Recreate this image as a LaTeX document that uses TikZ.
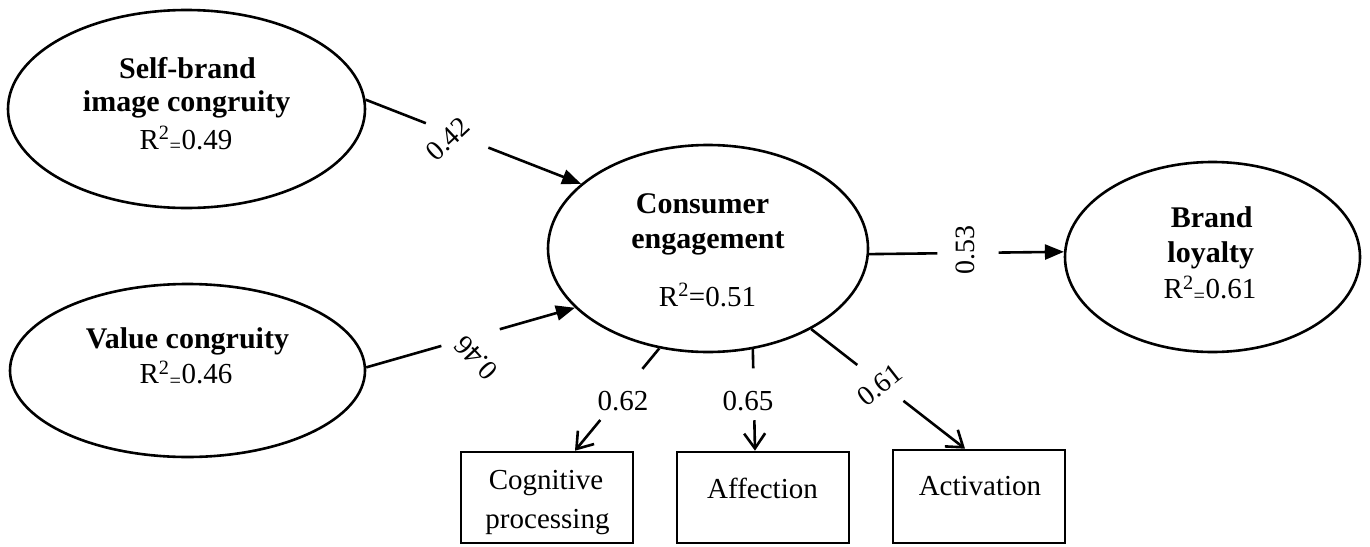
\documentclass[tikz,border=0pt]{standalone}
\usepackage{fontspec}
\setmainfont{Liberation Serif}
\usetikzlibrary{shapes.geometric,arrows.meta,calc}

\tikzset{
  latent/.style={draw, ellipse, inner sep=0pt, line width=2.6pt},
  indicator/.style={draw, rectangle, inner sep=0pt, minimum width=172pt, line width=2.6pt},
  title/.style={font=\fontsize{30}{34}\bfseries, anchor=base, inner sep=0pt},
  plain/.style={font=\fontsize{29}{34}\selectfont, anchor=base, inner sep=0pt},
  coef/.style={font=\fontsize{28}{32}\selectfont, inner sep=0pt},
  link/.style={line width=2.6pt},
  structural/.style={link, -{Triangle[length=19pt,width=15pt]}},
  loading/.style={link, -{Straight Barb[length=15pt,width=21pt]}},
}

% connector broken around its coefficient: from, to, gap start, gap end, tip style
\newcommand\gapline[5]{%
  \draw[link] (#1) -- ($(#1)!#3!(#2)$);
  \draw[#5] ($(#1)!#4!(#2)$) -- (#2);}

\begin{document}
\begin{tikzpicture}[x=1pt,y=-1pt]
\useasboundingbox (0,0) rectangle (1370,546);

% latent constructs
\node[latent, minimum width=357pt, minimum height=198pt] (sbc) at (186.5,109) {};
\node[latent, minimum width=355pt, minimum height=173pt] (vc)  at (187.5,370.5) {};
\node[latent, minimum width=320pt, minimum height=207pt] (ce)  at (708,248.5) {};
\node[latent, minimum width=295pt, minimum height=190pt] (bl)  at (1212.5,257) {};

% construct labels
\node[title] (sbc-a) at (187.5,78.5)  {Self-brand};
\node[title] (sbc-b) at (186.7,111)   {image congruity};
\node[plain] (sbc-c) at (186,149)     {R\textsuperscript{2}\textsubscript{=}0.49};

\node[title] (vc-a) at (187.5,348.5)  {Value congruity};
\node[plain] (vc-b) at (186,383.5)    {R\textsuperscript{2}\textsubscript{=}0.46};

\node[title] (ce-a) at (702.5,213.5)  {Consumer};
\node[title] (ce-b) at (708,248.5)    {engagement};
\node[plain] (ce-c) at (707.5,306)    {R\textsuperscript{2}=0.51};

\node[title] (bl-a) at (1211.7,227.5) {Brand};
\node[title] (bl-b) at (1210.8,262)   {loyalty};
\node[plain] (bl-c) at (1210,298.5)   {R\textsuperscript{2}\textsubscript{=}0.61};

% dimensions of engagement
\node[indicator, minimum height=91pt] (cog) at (547,497.5) {};
\node[indicator, minimum height=91pt] (aff) at (763,497.5) {};
\node[indicator, minimum height=93pt] (act) at (979,496.5) {};

\node[plain] (cog-a) at (546,489)   {Cognitive};
\node[plain] (cog-b) at (547.5,528) {processing};
\node[plain] (aff-a) at (762.5,498.5) {Affection};
\node[plain] (act-a) at (980,495)   {Activation};

% arrow ends on the boxes
\coordinate (cog-in) at ($(cog.north)+(28,0)$);
\coordinate (aff-in) at ($(aff.north)+(-8,0)$);
\coordinate (act-in) at ($(act.north)+(-14,0)$);

% structural paths
\gapline{sbc.3}{ce.153}{0.28}{0.57}{structural}
\gapline{vc.1}{ce.204}{0.36}{0.64}{structural}
\gapline{ce.358}{bl.178}{0.35}{0.665}{structural}

% loadings
\gapline{ce.244}{cog-in}{0.2}{0.7}{loading}
\gapline{ce.294}{aff-in}{0.19}{0.7}{loading}
\gapline{ce.322}{act-in}{0.3}{0.6}{loading}

% coefficients
\node[coef, rotate=43]  (c1) at (448,139) {0.42};
\node[coef, rotate=133] (c2) at (476,358) {0.46};
\node[coef, rotate=90]  (c3) at (965,250) {0.53};
\node[plain] (c4) at (623,410) {0.62};
\node[plain] (c5) at (748,410) {0.65};
\node[coef, rotate=38]  (c6) at (880,385) {0.61};
\end{tikzpicture}
\end{document}
